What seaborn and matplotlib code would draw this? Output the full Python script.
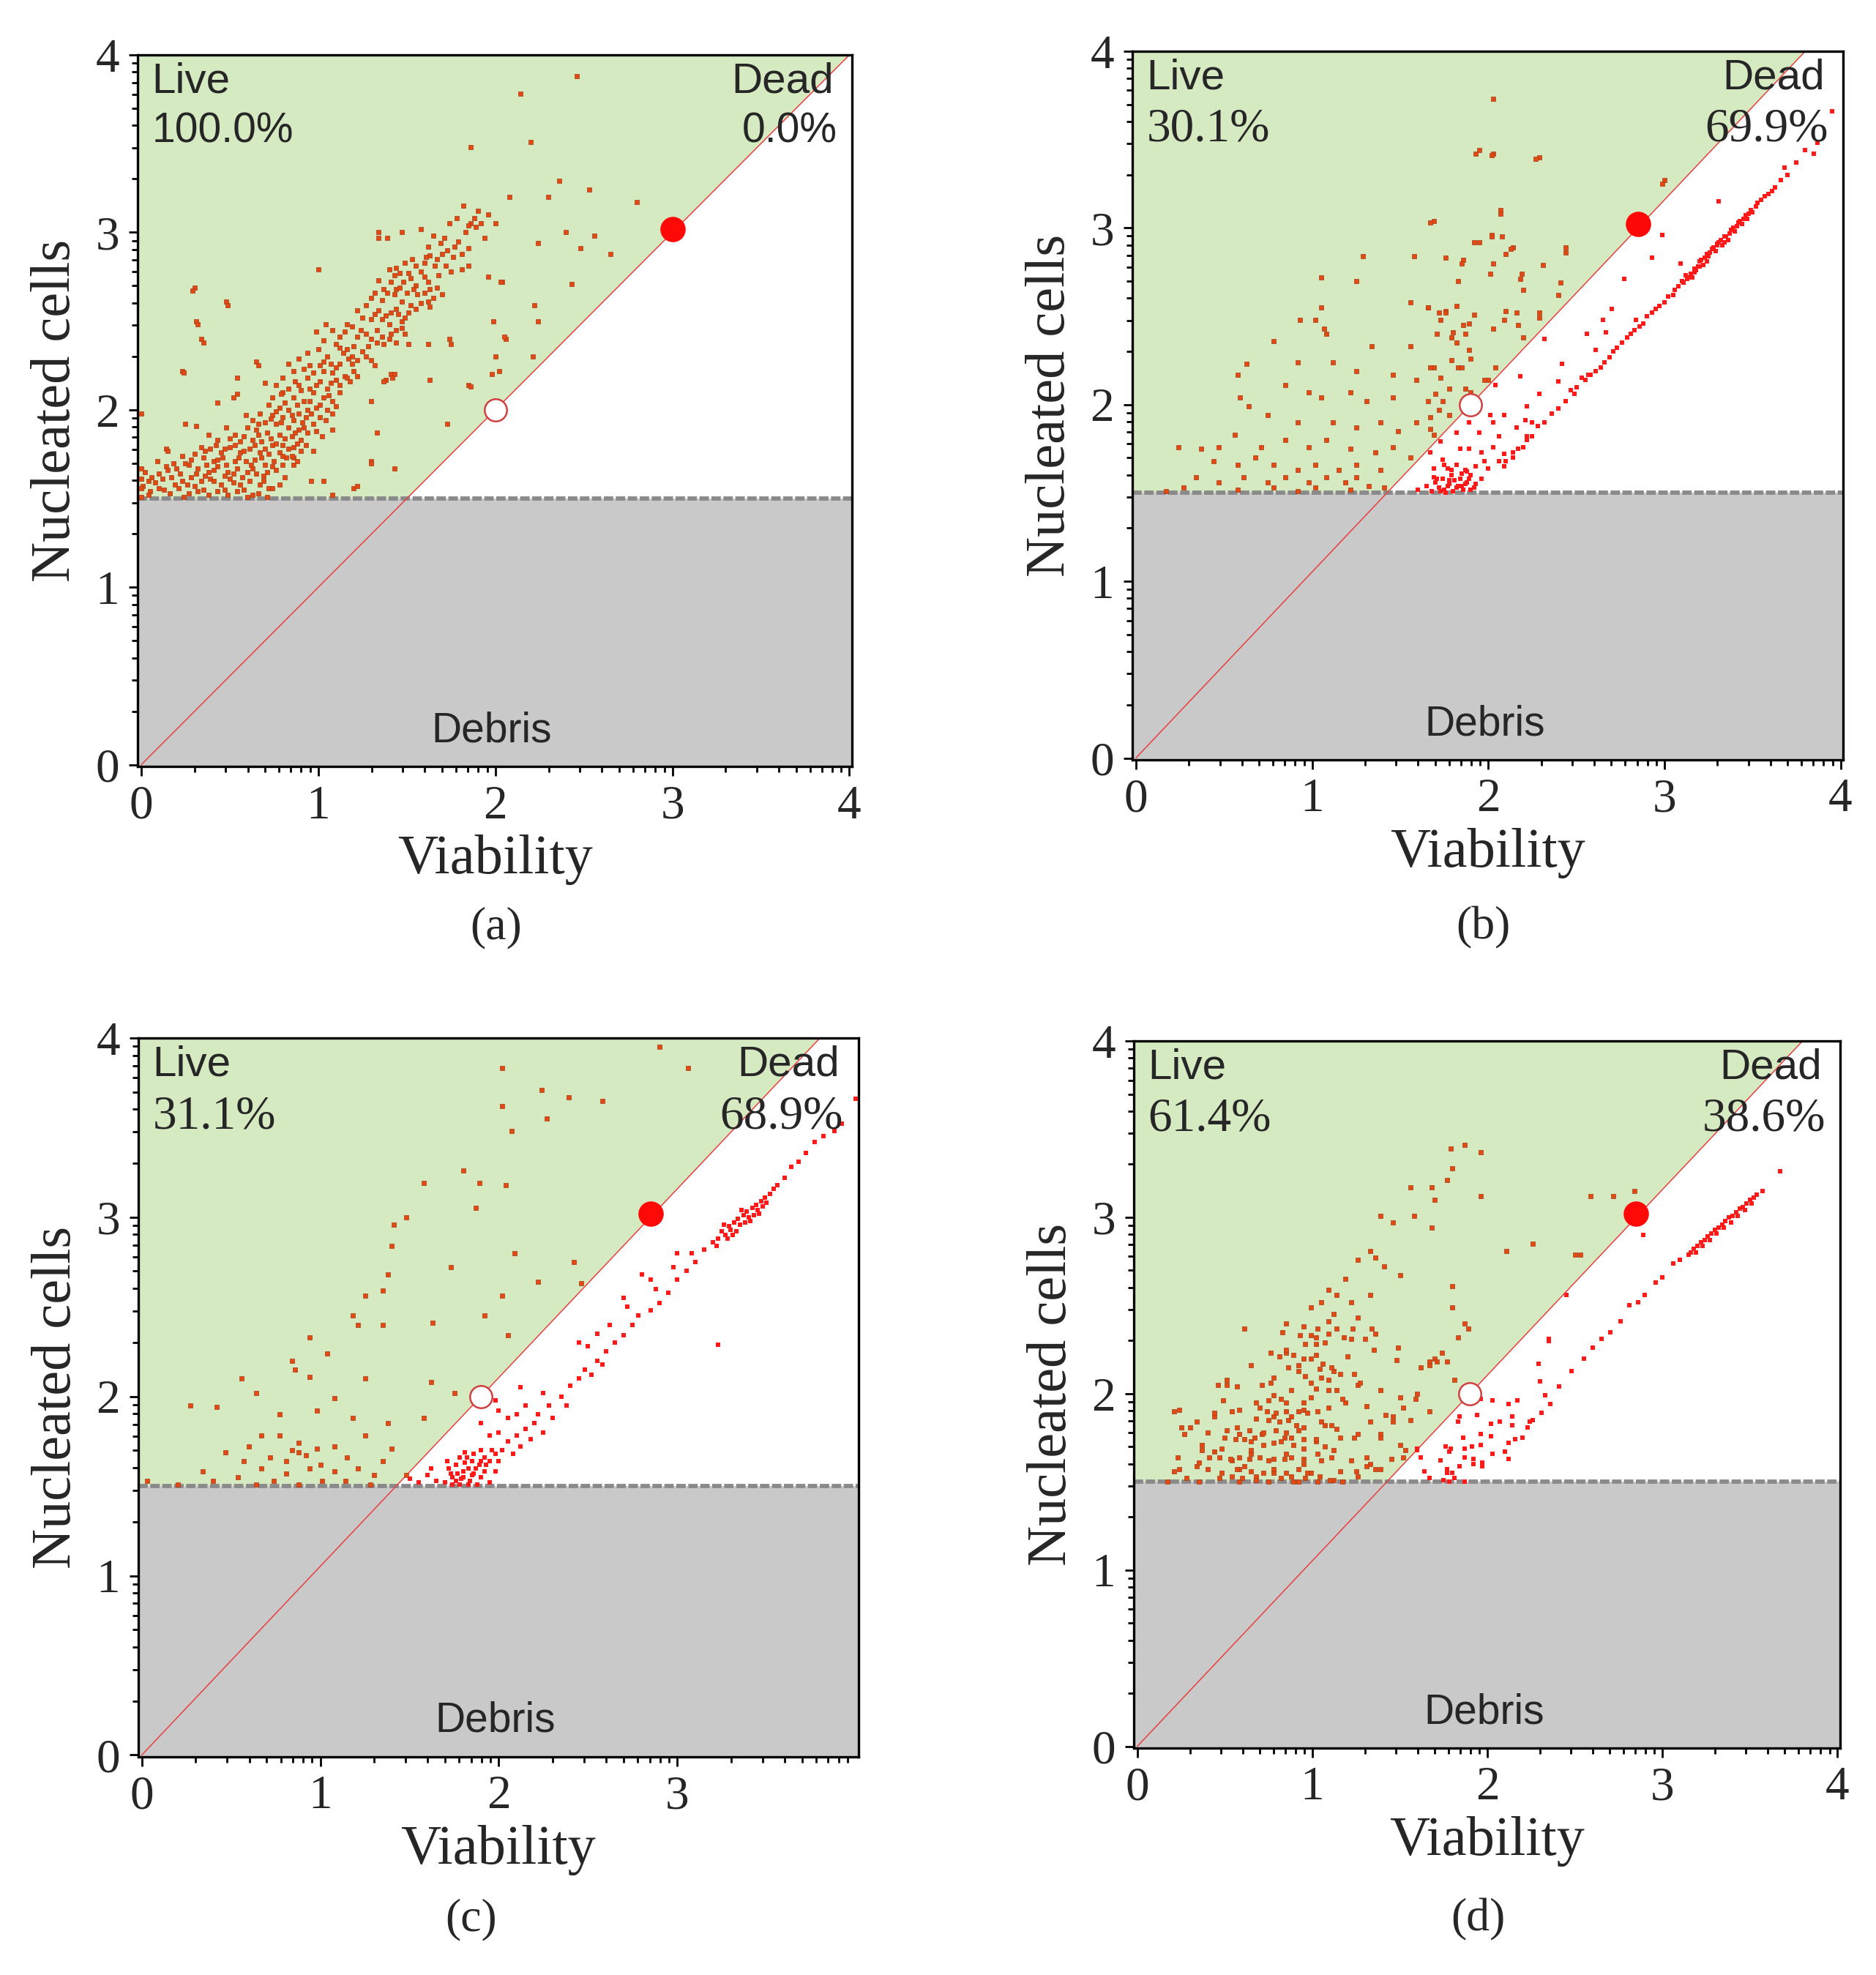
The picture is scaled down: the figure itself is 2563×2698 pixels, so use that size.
import matplotlib
matplotlib.use("Agg")
import matplotlib.pyplot as plt
import seaborn as sns
import numpy as np

sns.set_style("white")
plt.rcParams["font.family"] = ["Liberation Serif", "DejaVu Serif"]
SANS = ["Liberation Sans", "DejaVu Sans"]
SERIF = ["Liberation Serif", "DejaVu Serif"]

# ---------------- data ----------------
panel_ids = ["a", "b", "c", "d"]
live_pct = ["100.0%", "30.1%", "31.1%", "61.4%"]
dead_pct = ["0.0%", "69.9%", "68.9%", "38.6%"]
x_labels = [["0", "1", "2", "3", "4"], ["0", "1", "2", "3", "4"],
            ["0", "1", "2", "3"], ["0", "1", "2", "3", "4"]]
debris_cut = 1.5
# gate line runs from the origin to these points
gate_end = [(4.0, 4.0), (3.8, 4.0), (3.8, 4.0), (3.8, 4.0)]
handle_open = [(2.0, 2.0), (1.9, 2.0), (1.9, 2.0), (1.9, 2.0)]
handle_full = [(3.0, 3.02), (2.85, 3.02), (2.85, 3.02), (2.85, 3.02)]

a_live = [
    (2.46, 3.88), (2.14, 3.78), (1.86, 3.48), (2.2, 3.51), (2.36, 3.29), (2.53, 3.24), (2.8, 3.17), (2.08, 3.2),
    (2.3, 3.2), (2.4, 3.0), (2.56, 2.98), (2.48, 2.91), (2.65, 2.88), (2.24, 2.94), (2.04, 2.72), (2.43, 2.71),
    (2.22, 2.59), (2.24, 2.5), (2.06, 2.4), (2.21, 2.3), (1.96, 3.1), (1.9, 3.12), (1.82, 3.15), (1.86, 3.05), (2.0, 3.05),
    (1.88, 3.08), (1.85, 3.04), (1.89, 3.03), (1.74, 3.05), (1.58, 3.02), (1.47, 3.0), (1.34, 3.0), (1.34, 2.97),
    (1.39, 2.97), (1.94, 2.97), (1.65, 2.98), (1.69, 2.94), (1.73, 2.9), (1.77, 2.92), (1.81, 2.88), (1.85, 2.91),
    (1.7, 2.88), (1.63, 2.87), (1.6, 2.83), (1.55, 2.81), (1.49, 2.83), (1.44, 2.8), (1.4, 2.79), (1.43, 2.76),
    (1.51, 2.77), (1.58, 2.78), (1.66, 2.81), (1.72, 2.81), (1.81, 2.79), (1.85, 2.81), (1.0, 2.79), (1.96, 2.75),
    (2.03, 2.72), (1.34, 2.73), (1.41, 2.72), (1.48, 2.72), (1.55, 2.7), (1.62, 2.72), (1.67, 2.69), (1.37, 2.68),
    (1.44, 2.68), (1.43, 2.65), (1.5, 2.66), (1.56, 2.65), (1.63, 2.68), (1.7, 2.65), (1.3, 2.63), (1.36, 2.62),
    (1.47, 2.61), (1.52, 2.59), (1.62, 2.61), (1.65, 2.63), (1.27, 2.59), (1.34, 2.56), (1.41, 2.55), (1.45, 2.54),
    (1.51, 2.55), (1.55, 2.57), (1.63, 2.58), (1.22, 2.56), (1.25, 2.52), (1.3, 2.51), (1.36, 2.51), (1.4, 2.48),
    (1.47, 2.5), (0.3, 2.69), (0.48, 2.61), (0.31, 2.5), (1.99, 2.5), (1.16, 2.48),
    (0.99, 2.44), (1.04, 2.48), (1.08, 2.45), (1.15, 2.44), (1.19, 2.47), (1.22, 2.41), (1.27, 2.43), (1.3, 2.4),
    (1.36, 2.41), (1.44, 2.45), (1.49, 2.43), (1.37, 2.37), (1.44, 2.38), (1.51, 2.37), (1.62, 2.37), (1.74, 2.4),
    (2.05, 2.41), (1.03, 2.39), (1.1, 2.37), (1.16, 2.34), (1.25, 2.33), (1.19, 2.3), (1.14, 2.32), (1.05, 2.3),
    (1.03, 2.27), (1.07, 2.26), (1.0, 2.34), (0.34, 2.4), (0.65, 2.27), (0.83, 2.26), (0.89, 2.29), (0.94, 2.32),
    (1.12, 2.26), (1.19, 2.26), (1.27, 2.3), (1.32, 2.25), (2.0, 2.3), (2.02, 2.22),
    (0.86, 2.22), (0.92, 2.23), (0.97, 2.21), (1.03, 2.22), (1.08, 2.21), (1.15, 2.19), (1.22, 2.19), (0.23, 2.22),
    (0.8, 2.18), (0.87, 2.16), (0.94, 2.18), (0.99, 2.14), (1.07, 2.15), (1.12, 2.14), (1.16, 2.18), (1.41, 2.2),
    (1.63, 2.17), (1.38, 2.17), (1.85, 2.14), (0.54, 2.18), (0.7, 2.15), (0.76, 2.14), (0.83, 2.12), (0.9, 2.11),
    (0.97, 2.1), (1.03, 2.07), (1.08, 2.05), (0.8, 2.1), (0.74, 2.07), (0.86, 2.07), (0.92, 2.05), (1.3, 2.05),
    (0.54, 2.09), (0.52, 2.07), (0.43, 2.04), (1.12, 2.1),
    (0.72, 2.03), (0.78, 2.01), (0.83, 2.0), (0.89, 1.98), (0.94, 2.0), (0.99, 2.01), (1.05, 2.0), (0.67, 1.98),
    (0.74, 1.97), (0.8, 1.96), (0.86, 1.94), (0.93, 1.96), (0.97, 1.92), (1.04, 1.94), (0.59, 1.97), (0.63, 1.94),
    (0.7, 1.93), (0.76, 1.92), (0.83, 1.9), (0.89, 1.89), (0.94, 1.87), (0.6, 1.9), (0.65, 1.89), (0.71, 1.87),
    (0.78, 1.86), (0.85, 1.85), (0.9, 1.83), (1.08, 1.89), (1.33, 1.87), (1.73, 1.92), (0.25, 1.92), (0.31, 1.91),
    (0.38, 1.86), (0.43, 1.83), (0.48, 1.9), (0.53, 1.86), (0.56, 1.82), (0.63, 1.83), (0.68, 1.82), (0.74, 1.8),
    (0.8, 1.8), (0.86, 1.79), (0.97, 1.77), (0.14, 1.78),
    (0.34, 1.79), (0.39, 1.78), (0.45, 1.76), (0.5, 1.79), (0.56, 1.76), (0.61, 1.78), (0.67, 1.76), (0.72, 1.75),
    (0.78, 1.76), (0.82, 1.73), (0.23, 1.74), (0.28, 1.72), (0.35, 1.73), (0.41, 1.71), (0.46, 1.73), (0.53, 1.71),
    (0.59, 1.71), (0.64, 1.72), (0.7, 1.69), (0.75, 1.71), (0.86, 1.73), (0.09, 1.71), (0.14, 1.68), (0.2, 1.67),
    (0.27, 1.69), (0.32, 1.67), (0.38, 1.65), (0.43, 1.68), (0.49, 1.65), (0.54, 1.67), (0.6, 1.65), (0.65, 1.64),
    (0.71, 1.65), (0.02, 1.65), (0.06, 1.62), (0.12, 1.61), (0.17, 1.62), (0.23, 1.6), (0.28, 1.62), (0.34, 1.6),
    (0.39, 1.61), (0.45, 1.58), (0.5, 1.61), (0.56, 1.58), (0.61, 1.6), (0.67, 1.58), (0.72, 1.56), (1.03, 1.6),
    (0.01, 1.57), (0.05, 1.54), (0.1, 1.56), (0.16, 1.53), (0.21, 1.56), (0.27, 1.53), (0.32, 1.54), (0.38, 1.52),
    (0.43, 1.54), (0.49, 1.52), (0.54, 1.54), (0.6, 1.51), (0.71, 1.51), (0.74, 1.56), (1.08, 1.52), (1.2, 1.56),
    (1.3, 1.71), (0.85, 1.74), (0.86, 1.69), (0.96, 1.6), (0.0, 1.67), (0.0, 1.61), (0.0, 1.56), (0.0, 1.51),
    (0.0, 1.98), (1.98, 2.2), (1.37, 2.16), (1.43, 2.2), (1.86, 2.13), (1.75, 2.37), (1.42, 2.18), (1.3, 1.7),
    (1.43, 1.67), (1.22, 1.57), (0.29, 2.67), (0.49, 2.59), (0.32, 2.48), (0.35, 2.38), (0.24, 2.21), (0.66, 2.25),
    (0.79, 2.09), (0.15, 1.77),
    (0.04, 1.52), (0.08, 1.59), (0.13, 1.55), (0.19, 1.58), (0.24, 1.51), (0.3, 1.57), (0.35, 1.55), (0.41, 1.6),
    (0.47, 1.55), (0.52, 1.59), (0.58, 1.55), (0.63, 1.52), (0.69, 1.6), (0.66, 1.53), (0.78, 1.58), (0.81, 1.62),
    (0.04, 1.6), (0.1, 1.64), (0.15, 1.66), (0.22, 1.64), (0.26, 1.58), (0.31, 1.64), (0.36, 1.63), (0.41, 1.66),
    (0.47, 1.63), (0.52, 1.64), (0.57, 1.62), (0.63, 1.67), (0.69, 1.63), (0.76, 1.66), (0.8, 1.69), (0.18, 1.7),
    (0.25, 1.7), (0.3, 1.75), (0.37, 1.69), (0.43, 1.72), (0.48, 1.69), (0.55, 1.73), (0.62, 1.69), (0.68, 1.73),
    (0.74, 1.68), (0.8, 1.74), (0.88, 1.71), (0.9, 1.77), (0.36, 1.77), (0.42, 1.8), (0.47, 1.78), (0.53, 1.8),
    (0.58, 1.77), (0.64, 1.8), (0.7, 1.78), (0.76, 1.81), (0.83, 1.78), (0.88, 1.81), (0.93, 1.8), (0.5, 1.84),
    (0.58, 1.85), (0.66, 1.86), (0.73, 1.84), (0.81, 1.84), (0.87, 1.87), (0.92, 1.9), (0.99, 1.88), (1.02, 1.85),
    (0.66, 1.92), (0.73, 1.95), (0.79, 1.93), (0.85, 1.97), (0.91, 1.93), (0.96, 1.98), (1.01, 1.96), (1.08, 1.98),
    (0.76, 1.99), (0.81, 2.04), (0.88, 2.03), (0.95, 2.05), (1.01, 2.03), (1.06, 2.08), (1.1, 2.02), (0.89, 2.14),
    (0.95, 2.12), (1.01, 2.16), (1.05, 2.12), (1.1, 2.17), (1.18, 2.16), (1.2, 2.22), (0.95, 2.25), (1.01, 2.25),
    (1.1, 2.24), (1.17, 2.29), (1.22, 2.28), (1.3, 2.28), (1.12, 2.35), (1.2, 2.36), (1.28, 2.36), (1.33, 2.38),
    (1.4, 2.4), (1.12, 2.41), (1.24, 2.45), (1.33, 2.45), (1.41, 2.43), (1.47, 2.46), (1.32, 2.54), (1.38, 2.53),
    (1.44, 2.57), (1.49, 2.52), (1.58, 2.6), (1.6, 2.66), (1.54, 2.68), (1.46, 2.69), (1.39, 2.66), (1.32, 2.66),
    (1.52, 2.74), (1.6, 2.75), (1.68, 2.76), (1.75, 2.78), (1.46, 2.77), (1.53, 2.85), (1.61, 2.86), (1.67, 2.85),
    (1.76, 2.86), (1.79, 2.95), (1.71, 2.97), (1.62, 2.92), (1.83, 3.0), (1.78, 3.08), (1.92, 3.05),
]
a_dead = []

b_live = [
    (2.03, 3.73), (1.95, 3.44), (2.03, 3.42), (2.29, 3.4), (3.0, 3.27), (1.69, 3.04), (2.07, 3.1), (2.02, 2.96),
    (2.14, 2.89), (1.95, 2.92), (2.44, 2.89), (1.58, 2.84), (1.86, 2.82), (1.29, 2.84), (1.05, 2.72), (1.25, 2.7),
    (2.19, 2.74), (2.41, 2.69), (1.05, 2.55), (1.02, 2.48), (0.93, 2.48), (1.07, 2.43), (1.08, 2.4), (1.56, 2.58),
    (1.66, 2.55), (1.76, 2.53), (1.8, 2.41), (1.71, 2.4), (1.86, 2.45), (2.1, 2.53), (2.29, 2.52), (2.17, 2.45),
    (1.34, 2.33), (1.56, 2.33), (0.78, 2.36), (0.92, 2.24), (1.12, 2.24), (0.63, 2.23), (1.25, 2.19), (1.46, 2.17),
    (1.69, 2.21), (1.83, 2.21), (1.9, 2.07), (1.59, 2.14), (2.0, 2.14), (0.58, 2.17), (0.85, 2.11), (0.98, 2.07),
    (1.05, 2.04), (1.22, 2.07), (1.31, 2.02), (1.46, 2.04), (1.66, 2.02), (1.78, 1.94), (0.59, 2.04), (0.64, 1.99),
    (0.75, 1.94), (0.92, 1.9), (1.12, 1.9), (1.25, 1.87), (1.39, 1.9), (1.49, 1.85), (1.59, 1.9), (1.69, 1.83),
    (0.24, 1.76), (0.37, 1.75), (0.47, 1.76), (0.56, 1.83), (0.71, 1.76), (0.85, 1.8), (0.98, 1.76), (1.08, 1.8),
    (1.22, 1.75), (1.36, 1.73), (1.46, 1.76), (1.56, 1.7), (0.44, 1.68), (0.58, 1.66), (0.68, 1.7), (0.78, 1.66),
    (0.92, 1.63), (1.02, 1.66), (1.15, 1.63), (1.25, 1.66), (1.39, 1.63), (0.34, 1.59), (0.47, 1.56), (0.61, 1.59),
    (0.75, 1.56), (0.85, 1.59), (0.98, 1.56), (1.08, 1.59), (1.19, 1.56), (1.25, 1.59), (1.32, 1.54), (0.78, 1.53),
    (0.92, 1.51), (1.02, 1.53), (0.27, 1.53), (0.17, 1.51), (0.58, 1.52), (1.22, 1.52), (1.41, 1.53),
    (1.93, 3.42), (2.02, 3.41), (2.27, 3.39), (2.99, 3.25), (2.07, 3.08), (1.67, 3.03), (2.02, 2.95), (2.08, 2.95),
    (1.92, 2.92), (2.13, 2.88), (2.1, 2.85), (2.44, 2.86), (1.76, 2.83), (1.85, 2.8), (2.03, 2.8), (2.31, 2.79),
    (2.01, 2.74), (1.83, 2.7), (2.18, 2.71), (2.2, 2.65), (2.4, 2.62), (1.82, 2.56), (1.66, 2.55), (1.72, 2.52),
    (1.76, 2.52), (1.92, 2.51), (2.16, 2.52), (2.09, 2.48), (1.73, 2.48), (2.29, 2.49), (1.89, 2.46), (2.03, 2.43),
    (1.87, 2.4), (1.79, 2.38), (1.82, 2.35), (2.2, 2.38), (1.89, 2.31), (1.9, 2.26), (1.79, 2.25), (1.85, 2.21),
    (2.04, 2.21), (1.67, 2.21), (1.73, 2.15), (1.98, 2.14), (1.78, 2.09), (1.87, 2.09), (1.7, 2.06), (1.74, 2.02),
    (1.72, 1.97), (1.67, 1.93), (1.67, 1.86),
]
b_dead = [
    (1.68, 1.51), (1.72, 1.53), (1.75, 1.52), (1.78, 1.55), (1.8, 1.51), (1.83, 1.54), (1.86, 1.52), (1.88, 1.56),
    (1.74, 1.58), (1.79, 1.6), (1.84, 1.58), (1.9, 1.6), (1.92, 1.53), (1.77, 1.64), (1.82, 1.66), (1.87, 1.63),
    (1.93, 1.65), (1.7, 1.56), (1.96, 1.58), (1.65, 1.54), (1.6, 1.52), (1.76, 1.5), (1.81, 1.57), (1.85, 1.61),
    (3.31, 3.15), (2.99, 2.96), (2.93, 2.83), (3.09, 2.8), (2.77, 2.71), (2.7, 2.54), (2.65, 2.48), (2.67, 2.41),
    (2.56, 2.4), (2.84, 2.48), (2.61, 2.31), (2.32, 2.37), (2.42, 2.23), (2.18, 2.16), (2.4, 2.13), (2.04, 2.11),
    (2.29, 2.06), (2.22, 1.99), (2.09, 1.94), (2.01, 1.94), (2.21, 1.91), (2.25, 1.9), (1.89, 1.9), (2.03, 1.9),
    (2.32, 1.9), (2.16, 1.87), (1.82, 1.84), (1.95, 1.84), (2.06, 1.82), (2.22, 1.82), (1.73, 1.79), (1.84, 1.75),
    (1.89, 1.75), (1.96, 1.73), (2.03, 1.76), (2.09, 1.72), (2.14, 1.73), (1.67, 1.73), (1.74, 1.69), (1.98, 1.68),
    (2.06, 1.68), (2.09, 1.65), (1.69, 1.64), (1.88, 1.62), (2.0, 1.64), (1.71, 1.58), (1.78, 1.57), (1.89, 1.58),
    (1.93, 1.55), (1.85, 1.54),
    (2.17, 1.75), (2.2, 1.76), (2.14, 1.7), (2.1, 1.68), (2.22, 1.8), (2.25, 1.82), (2.28, 1.88), (2.36, 1.95),
    (2.4, 1.98), (2.44, 2.02), (2.49, 2.06), (2.53, 2.15), (2.58, 2.17), (2.64, 2.21), (2.69, 2.27), (2.73, 2.32),
    (2.79, 2.38), (2.83, 2.42), (2.88, 2.46), (2.93, 2.52), (2.97, 2.56), (3.02, 2.61), (3.06, 2.65), (3.1, 2.7),
    (3.15, 2.74), (3.17, 2.77), (3.2, 2.81), (3.23, 2.83), (3.26, 2.86), (3.28, 2.89), (3.31, 2.92), (3.34, 2.95),
    (3.37, 2.97), (3.39, 3.0), (3.42, 3.03), (3.45, 3.05), (3.48, 3.08), (3.52, 3.12), (3.55, 3.16), (3.59, 3.19),
    (3.63, 3.23), (3.68, 3.34), (3.75, 3.37), (3.13, 2.71), (3.19, 2.78), (3.3, 2.9), (3.34, 2.92), (3.16, 2.72),
    (3.22, 2.79), (3.25, 2.84), (3.29, 2.87), (3.33, 2.9), (3.36, 2.93), (3.4, 2.98), (3.44, 3.02), (3.47, 3.05),
    (3.5, 3.09), (3.08, 2.67), (3.12, 2.73), (3.18, 2.76), (3.24, 2.81), (2.55, 2.14), (2.61, 2.19), (2.47, 2.08),
    (2.86, 2.44), (2.76, 2.35), (2.9, 2.5), (3.0, 2.58), (3.05, 2.62), (3.57, 3.18), (3.61, 3.21), (3.66, 3.27),
    (3.7, 3.3), (3.8, 3.44), (3.87, 3.48), (3.95, 3.66), (3.85, 3.42),
    (3.11, 2.69), (3.14, 2.72), (3.17, 2.75), (3.2, 2.78), (3.21, 2.82), (3.24, 2.85), (3.27, 2.88), (3.3, 2.91),
    (3.32, 2.93), (3.35, 2.95), (3.38, 2.99), (3.41, 3.01), (3.43, 3.04), (3.46, 3.07), (3.49, 3.1), (3.53, 3.14),
    (2.5, 2.1), (2.57, 2.17), (2.66, 2.24), (2.71, 2.3), (2.81, 2.4), (2.95, 2.54), (1.73, 1.51), (1.77, 1.54),
    (1.82, 1.53), (1.87, 1.55), (1.79, 1.63), (1.9, 1.52), (1.69, 1.59), (1.75, 1.66),
]

c_live = [
    (2.9, 3.95), (2.02, 3.83), (3.06, 3.83), (2.24, 3.71), (2.39, 3.67), (2.58, 3.65), (2.02, 3.62), (2.27, 3.55),
    (2.07, 3.48), (1.8, 3.26), (1.58, 3.19), (1.89, 3.19), (2.04, 3.18), (1.87, 3.05), (1.41, 2.96), (1.48, 3.0),
    (1.4, 2.84), (2.09, 2.8), (2.42, 2.75), (1.73, 2.72), (1.38, 2.68), (2.22, 2.64), (2.46, 2.63), (1.35, 2.59),
    (2.02, 2.56), (1.25, 2.56), (1.18, 2.45), (1.21, 2.4), (1.35, 2.4), (1.63, 2.41), (1.92, 2.45), (2.05, 2.34),
    (0.94, 2.33), (1.04, 2.24), (0.84, 2.2), (0.86, 2.15), (0.94, 2.11), (1.25, 2.1), (0.56, 2.1), (1.62, 2.08),
    (1.75, 2.02), (0.27, 1.95), (0.42, 1.94), (0.64, 2.02), (0.77, 1.9), (0.98, 1.92), (1.08, 1.99), (1.18, 1.88),
    (1.38, 1.85), (1.58, 1.88), (0.67, 1.78), (0.77, 1.78), (0.88, 1.74), (0.98, 1.71), (1.08, 1.72), (1.25, 1.78),
    (1.4, 1.71), (0.47, 1.69), (0.57, 1.64), (0.67, 1.6), (0.81, 1.64), (0.88, 1.69), (0.94, 1.6), (1.08, 1.58),
    (1.21, 1.6), (1.35, 1.64), (0.34, 1.58), (0.4, 1.53), (0.54, 1.55), (0.64, 1.51), (0.74, 1.53), (0.88, 1.51),
    (1.01, 1.53), (1.14, 1.53), (1.28, 1.51), (0.2, 1.51), (0.03, 1.53), (1.48, 1.56), (0.84, 1.7), (0.92, 1.67),
    (0.72, 1.66), (1.0, 1.62), (0.6, 1.72), (1.15, 1.66), (0.81, 1.57), (1.3, 1.56),
]
c_dead = [
    (1.7, 1.52), (1.74, 1.55), (1.78, 1.51), (1.8, 1.58), (1.84, 1.53), (1.87, 1.6), (1.9, 1.55), (1.93, 1.62),
    (1.76, 1.62), (1.82, 1.66), (1.86, 1.68), (1.95, 1.52), (1.98, 1.58), (1.72, 1.6), (1.79, 1.54), (1.88, 1.51),
    (1.92, 1.66), (2.0, 1.64), (1.96, 1.7), (1.83, 1.6), (1.77, 1.57), (1.65, 1.53), (1.6, 1.56), (1.55, 1.52),
    (1.5, 1.54), (1.62, 1.6), (1.81, 1.63), (1.85, 1.56), (1.74, 1.51), (1.9, 1.64),
    (1.73, 1.57), (1.76, 1.53), (1.8, 1.55), (1.83, 1.51), (1.86, 1.57), (1.89, 1.62), (1.92, 1.58), (1.95, 1.64),
    (1.78, 1.66), (1.85, 1.64), (1.98, 1.68), (1.71, 1.64), (1.81, 1.69), (1.9, 1.7),
    (2.02, 1.7), (2.05, 1.75), (2.08, 1.68), (2.1, 1.78), (2.12, 1.72), (2.0, 1.8), (1.95, 1.78), (2.15, 1.82),
    (2.18, 1.76), (2.2, 1.85), (2.05, 1.88), (2.1, 1.9), (2.22, 1.9), (2.25, 1.8), (2.28, 1.95), (2.3, 1.88),
    (2.15, 1.95), (2.0, 1.92), (1.9, 1.85), (2.35, 2.0), (2.38, 1.95), (2.25, 2.02), (2.12, 2.05), (1.98, 1.98),
    (2.4, 2.06), (2.45, 2.1), (2.48, 2.15), (2.52, 2.12), (2.55, 2.2), (2.58, 2.18), (2.6, 2.25), (2.5, 2.28),
    (2.65, 2.3), (2.7, 2.34), (2.62, 2.4), (2.75, 2.4), (2.78, 2.45), (2.72, 2.5), (2.85, 2.48), (2.9, 2.52),
    (2.88, 2.6), (2.95, 2.58), (3.0, 2.65), (2.98, 2.72), (3.05, 2.7), (3.1, 2.75), (3.08, 2.8), (3.15, 2.82),
    (3.0, 2.8), (2.85, 2.65), (2.7, 2.55), (2.8, 2.68), (2.55, 2.35), (2.45, 2.3),
    (3.2, 2.86), (3.23, 2.88), (3.25, 2.92), (3.27, 2.9), (3.29, 2.95), (3.3, 2.93), (3.32, 2.97), (3.34, 2.99),
    (3.35, 2.96), (3.37, 3.01), (3.39, 3.03), (3.4, 3.0), (3.42, 3.05), (3.44, 3.07), (3.45, 3.04), (3.47, 3.09),
    (3.49, 3.11), (3.5, 3.08), (3.52, 3.13), (3.54, 3.16), (3.56, 3.18), (3.22, 2.84), (3.28, 2.88), (3.33, 2.92),
    (3.38, 2.97), (3.43, 3.01), (3.48, 3.06), (3.26, 2.96), (3.36, 3.04), (3.31, 2.9), (3.41, 2.98), (3.46, 3.02),
    (3.6, 3.22), (3.64, 3.28), (3.68, 3.31), (3.72, 3.36), (3.77, 3.42), (3.82, 3.45), (3.88, 3.48), (3.92, 3.52),
    (4.0, 3.66), (3.23, 2.29),
]

d_live = [
    (1.79, 3.39), (1.87, 3.41), (1.96, 3.37), (1.8, 3.28), (1.77, 3.21), (1.68, 3.17), (1.56, 3.17), (1.7, 3.1),
    (1.58, 3.01), (1.39, 3.01), (1.46, 2.97), (1.96, 3.12), (1.68, 2.94), (2.59, 3.12), (2.84, 3.15), (2.72, 3.12),
    (2.11, 2.81), (2.26, 2.85), (2.5, 2.79), (2.53, 2.79), (1.33, 2.81), (1.36, 2.77), (1.26, 2.76), (1.41, 2.72),
    (1.5, 2.67), (1.19, 2.65), (1.09, 2.59), (1.14, 2.56), (1.05, 2.52), (1.22, 2.52), (1.33, 2.56), (0.99, 2.49),
    (1.12, 2.45), (1.26, 2.43), (1.8, 2.61), (1.8, 2.49), (1.87, 2.4), (0.85, 2.4), (0.95, 2.38), (1.02, 2.32),
    (1.09, 2.34), (1.22, 2.31), (1.36, 2.34), (1.7, 2.2), (1.77, 2.18), (1.67, 2.18), (0.85, 2.23), (0.92, 2.16),
    (0.99, 2.2), (1.05, 2.09), (1.12, 2.13), (1.26, 2.05), (1.39, 2.02), (1.5, 1.98), (1.6, 2.0), (0.65, 2.16),
    (0.51, 2.05), (0.71, 2.05), (0.78, 2.09), (0.88, 2.02), (0.99, 1.98), (1.09, 2.02), (1.19, 1.95), (1.33, 1.84),
    (1.46, 1.84), (0.24, 1.91), (0.34, 1.84), (0.44, 1.87), (0.58, 1.91), (0.68, 1.95), (0.78, 1.87), (0.88, 1.87),
    (0.95, 1.91), (1.05, 1.84), (1.14, 1.8), (1.26, 1.77), (1.39, 1.77), (1.53, 1.68), (0.27, 1.77), (0.37, 1.71),
    (0.48, 1.69), (0.58, 1.77), (0.65, 1.73), (0.71, 1.77), (0.82, 1.73), (0.88, 1.75), (0.95, 1.69), (1.02, 1.73),
    (1.12, 1.68), (1.22, 1.62), (1.33, 1.6), (0.41, 1.64), (0.54, 1.62), (0.65, 1.66), (0.75, 1.62), (0.85, 1.66),
    (0.95, 1.6), (1.05, 1.62), (0.24, 1.57), (0.34, 1.59), (0.48, 1.55), (0.58, 1.57), (0.68, 1.53), (0.78, 1.55),
    (0.88, 1.53), (0.99, 1.55), (1.12, 1.51), (1.26, 1.53), (1.39, 1.57), (0.17, 1.5), (0.58, 1.5), (0.92, 1.5),
    (0.93, 2.33), (0.99, 2.33), (1.03, 2.37), (1.09, 2.41), (1.14, 2.37), (1.23, 2.37), (1.34, 2.37), (0.83, 2.35),
    (0.61, 2.37), (1.18, 2.32), (1.07, 2.29), (1.02, 2.28), (0.96, 2.28), (1.3, 2.31), (1.83, 2.32), (1.89, 2.37),
    (0.85, 2.25), (0.89, 2.22), (0.95, 2.2), (1.02, 2.22), (1.06, 2.17), (1.11, 2.15), (1.2, 2.21), (1.35, 2.25),
    (0.76, 2.23), (0.81, 2.21), (0.86, 2.15), (0.92, 2.13), (0.96, 2.1), (1.04, 2.14), (1.16, 2.11), (1.24, 2.11),
    (1.49, 2.26), (1.48, 2.19), (1.74, 2.23), (1.71, 2.18), (1.62, 2.15), (1.67, 2.16), (1.81, 2.08), (0.51, 2.08),
    (1.27, 2.06), (0.99, 2.06), (1.02, 2.03), (1.09, 2.08), (1.14, 2.02), (1.17, 1.97), (0.76, 2.06), (0.46, 2.05),
    (0.57, 2.04), (0.78, 1.99), (0.82, 1.97), (0.75, 1.96), (0.85, 1.95), (0.95, 1.95), (0.7, 1.92), (0.74, 1.9),
    (0.79, 1.89), (0.85, 1.9), (0.92, 1.9), (0.97, 1.89), (1.03, 1.9), (1.09, 1.92), (0.49, 1.96), (0.54, 1.9),
    (0.21, 1.9), (0.44, 1.89), (1.31, 1.93), (1.42, 1.88), (1.46, 1.87), (1.59, 1.97), (1.67, 1.9), (1.52, 1.92),
    (0.68, 1.86), (0.75, 1.85), (0.81, 1.84), (0.86, 1.85), (0.91, 1.82), (0.95, 1.81), (1.07, 1.82), (1.11, 1.82),
    (0.79, 1.79), (0.85, 1.78), (0.92, 1.79), (0.72, 1.78), (0.64, 1.79), (0.57, 1.81), (0.51, 1.79), (0.25, 1.81),
    (0.3, 1.81), (0.4, 1.78), (0.56, 1.74), (0.61, 1.74), (0.67, 1.75), (0.72, 1.71), (0.78, 1.72), (0.84, 1.75),
    (0.89, 1.71), (0.95, 1.74), (1.02, 1.74), (1.07, 1.7), (1.16, 1.75), (1.24, 1.75), (1.39, 1.75), (1.5, 1.71),
    (1.56, 1.85), (0.5, 1.75), (0.37, 1.68), (0.44, 1.67), (0.65, 1.68),
    (0.47, 1.64), (0.53, 1.63), (0.58, 1.64), (0.64, 1.63), (0.7, 1.64), (0.78, 1.63), (0.84, 1.63), (0.88, 1.64),
    (0.95, 1.63), (1.03, 1.66), (1.11, 1.64), (1.31, 1.64), (1.45, 1.63), (1.52, 1.64), (0.23, 1.64), (0.35, 1.61),
    (0.4, 1.57), (0.57, 1.57), (0.61, 1.59), (0.65, 1.56), (0.72, 1.55), (0.78, 1.57), (0.85, 1.55), (0.92, 1.57),
    (0.97, 1.55), (1.04, 1.53), (1.16, 1.56), (1.25, 1.56), (1.31, 1.59), (1.36, 1.57), (0.21, 1.56), (0.28, 1.52),
    (0.35, 1.5), (0.47, 1.52), (0.54, 1.53), (0.6, 1.52), (0.68, 1.51), (0.75, 1.5), (0.82, 1.52), (0.89, 1.5),
    (0.96, 1.52), (1.03, 1.5), (1.1, 1.51), (1.17, 1.5),
]
d_dead = [
    (1.77, 1.55), (1.84, 1.59), (1.73, 1.62), (1.87, 1.69), (1.96, 1.77), (2.07, 1.84), (2.14, 1.87),
    (2.24, 1.84), (2.41, 2.04), (2.48, 2.13), (2.55, 2.2), (2.65, 2.31), (2.76, 2.41),
    (2.86, 2.52), (2.96, 2.63), (3.06, 2.74), (3.15, 2.79), (3.57, 3.15), (3.67, 3.26), (1.79, 1.69), (1.6, 1.69),
    (1.84, 1.87), (2.35, 2.31), (2.45, 2.56), (2.81, 2.5), (2.89, 2.9), (2.6, 2.26), (2.7, 2.35), (2.9, 2.56),
    (3.0, 2.66), (3.1, 2.76),
    (2.35, 2.3), (2.29, 2.17), (2.3, 2.07), (2.33, 1.99), (2.36, 1.94), (2.31, 1.89), (2.26, 1.85), (2.23, 1.81),
    (2.2, 1.75), (2.16, 1.74), (2.12, 1.72), (2.1, 1.67), (2.12, 1.63), (1.96, 1.97), (2.03, 1.96), (2.12, 1.94),
    (2.17, 1.96), (1.94, 1.88), (1.83, 1.84), (2.02, 1.83), (2.14, 1.82), (2.02, 1.76), (1.86, 1.75), (1.96, 1.71),
    (1.91, 1.7), (1.76, 1.7), (1.78, 1.67), (2.03, 1.66), (1.87, 1.64), (1.92, 1.63), (1.97, 1.61), (1.97, 1.59),
    (1.92, 1.6), (1.84, 1.59), (1.64, 1.56), (1.77, 1.57), (1.8, 1.55), (1.67, 1.52), (1.75, 1.51), (1.78, 1.5),
    (1.81, 1.52), (1.87, 1.5), (1.6, 1.68), (1.62, 1.64),
    (3.16, 2.8), (3.18, 2.82), (3.2, 2.84), (3.22, 2.86), (3.24, 2.87), (3.26, 2.89), (3.28, 2.91), (3.3, 2.93),
    (3.32, 2.94), (3.34, 2.96), (3.36, 2.98), (3.38, 3.0), (3.4, 3.01), (3.42, 3.03), (3.44, 3.05), (3.46, 3.06),
    (3.48, 3.08), (3.5, 3.1), (3.52, 3.11), (3.54, 3.13), (3.19, 2.8), (3.23, 2.84), (3.27, 2.87), (3.31, 2.91),
    (3.35, 2.94), (3.39, 2.97), (3.43, 3.01), (3.47, 3.04), (3.51, 3.08),
]

all_live = [a_live, b_live, c_live, d_live]
all_dead = [a_dead, b_dead, c_dead, d_dead]

# ---------------- layout ----------------
GREEN = "#d6eac2"
GREY = "#c9c9c9"
GATE_RED = "#e84040"
LIVE_DOT = "#e24a14"
DEAD_DOT = "#ff1a1a"

boxes = [
    [0.0734, 0.6119, 0.3808, 0.3603],
    [0.6036, 0.6153, 0.3789, 0.3588],
    [0.0737, 0.1105, 0.3839, 0.3640],
    [0.6044, 0.1149, 0.3765, 0.3580],
]
caption_pos = [(678, 1267), (2026, 1267), (644, 2622), (2019, 2622)]

XMIN, XMAX = -0.02, 4.015
YMIN, YMAX = -0.01, 4.0

major = np.arange(0, 5)
minor = np.array([d + np.log10(k) for d in range(4) for k in range(2, 10)])

fig = plt.figure(figsize=(25.63, 26.98), dpi=100)

for i, pid in enumerate(panel_ids):
    ax = fig.add_axes(boxes[i])
    gx, gy = gate_end[i]
    x_cut = debris_cut * gx / gy

    # live gate, dead gate stays white, debris band
    ax.fill([XMIN, x_cut, gx, XMIN], [debris_cut, debris_cut, gy, gy],
            color=GREEN, lw=0, zorder=0)
    ax.fill_between([XMIN, XMAX], YMIN, debris_cut, color=GREY, lw=0, zorder=0)
    ax.plot([XMIN, XMAX], [debris_cut, debris_cut], color="#8a8a8a", lw=4.2,
            ls=(0, (2.2, 0.6)), zorder=1)
    ax.plot([0, gx], [0, gy], color=GATE_RED, lw=1.1, zorder=2)

    live = all_live[i]
    if live:
        sns.scatterplot(x=[p[0] for p in live], y=[p[1] for p in live], ax=ax,
                        marker="s", s=22, color=LIVE_DOT, edgecolor="#a83a14",
                        linewidth=0.5, legend=False, zorder=3)
    dead = all_dead[i]
    if dead:
        sns.scatterplot(x=[p[0] for p in dead], y=[p[1] for p in dead], ax=ax,
                        marker="s", s=16, color=DEAD_DOT, linewidth=0,
                        legend=False, zorder=3)

    ox, oy = handle_open[i]
    fx, fy = handle_full[i]
    ax.scatter([ox], [oy], s=480, facecolor="white", edgecolor="#d04040", lw=1.8, zorder=4)
    ax.scatter([fx], [fy], s=620, color="#ff0808", lw=0, zorder=4)

    # gate labels
    pct_family = SANS if i == 0 else SERIF
    pct_size = 41 if i == 0 else 47
    ax.text(0.06, 3.96, "Live", family=SANS, fontsize=42, ha="left", va="top", zorder=5)
    ax.text(0.06, 3.68, live_pct[i], family=pct_family, fontsize=pct_size, ha="left", va="top", zorder=5)
    ax.text(3.91, 3.96, "Dead", family=SANS, fontsize=42, ha="right", va="top", zorder=5)
    ax.text(3.93, 3.68, dead_pct[i], family=pct_family, fontsize=pct_size, ha="right", va="top", zorder=5)
    ax.text(1.98, 0.19, "Debris", family=SANS, fontsize=41, ha="center", va="center", zorder=5)

    ax.set_xlim(XMIN, XMAX)
    ax.set_ylim(YMIN, YMAX)
    ax.set_xticks(major[:len(x_labels[i])])
    ax.set_xticklabels(x_labels[i])
    ax.set_xticks(minor, minor=True)
    ax.set_yticks(major)
    ax.set_yticklabels([str(v) for v in major])
    ax.set_yticks(minor, minor=True)
    ax.tick_params(which="both", direction="out", bottom=True, left=True, top=False,
                   right=False, width=2.0, color="black")
    ax.tick_params(which="major", length=9, labelsize=47, pad=9)
    ax.tick_params(which="minor", length=6)
    for sp in ax.spines.values():
        sp.set_linewidth(2.4)
        sp.set_color("black")
    ax.set_xlabel("Viability", fontsize=55, labelpad=6)
    ax.set_ylabel("Nucleated cells", fontsize=55, labelpad=14)

    cx, cy = caption_pos[i]
    fig.text(cx / 2563, 1 - cy / 2698, f"({pid})", fontsize=46, ha="center", va="center")

fig.savefig("out.png", dpi=100, facecolor="white")
